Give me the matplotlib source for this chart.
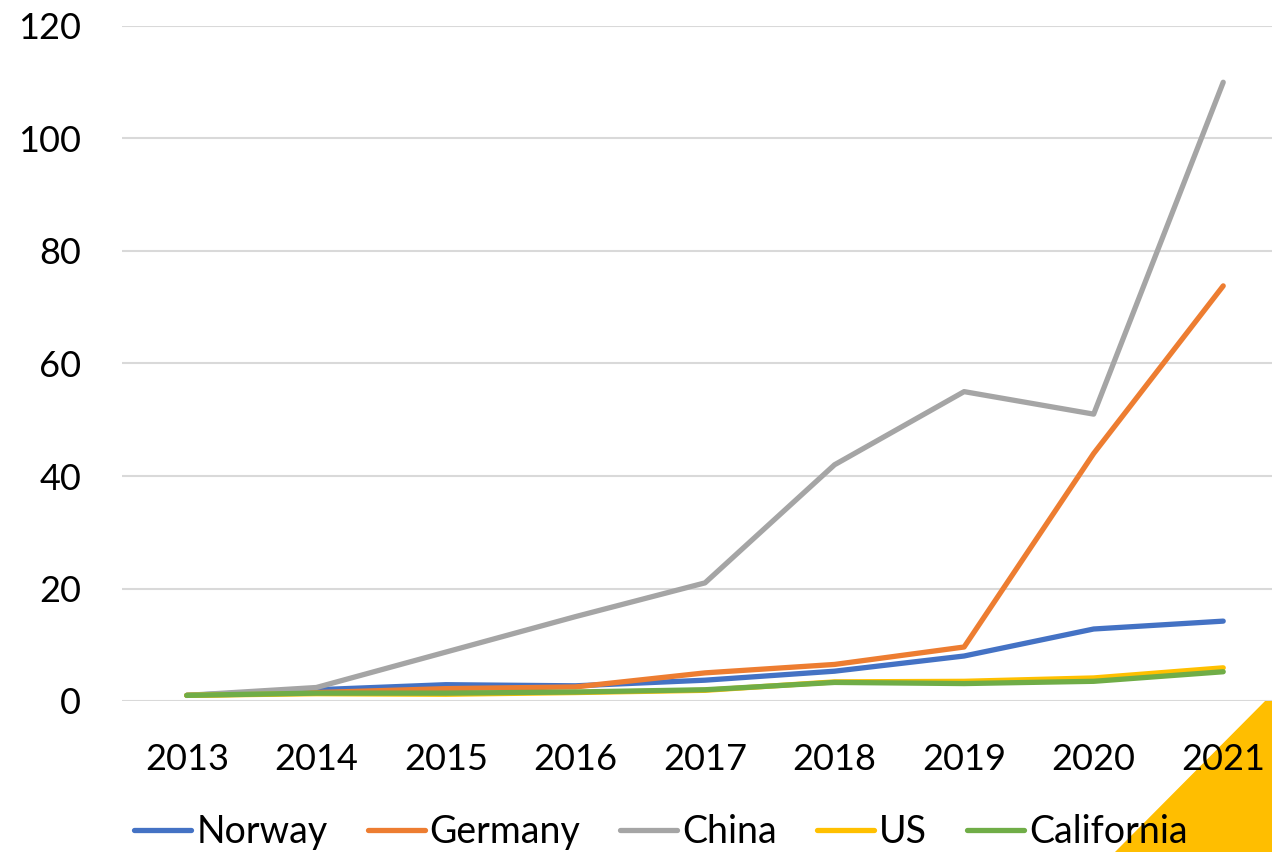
import matplotlib
matplotlib.use("Agg")
import matplotlib.pyplot as plt
from matplotlib.patches import Polygon

years = ["2013", "2014", "2015", "2016", "2017", "2018", "2019", "2020", "2021"]
norway = [1.0, 2.0, 2.9, 2.7, 3.7, 5.3, 8.0, 12.8, 14.2]
germany = [1.0, 1.5, 2.2, 2.5, 5.0, 6.5, 9.6, 44.0, 73.8]
china = [1.0, 2.4, 8.7, 15.0, 21.0, 42.0, 55.0, 51.0, 110.0]
us = [1.0, 1.3, 1.2, 1.5, 1.9, 3.4, 3.5, 4.1, 5.9]
california = [1.0, 1.4, 1.4, 1.6, 2.0, 3.3, 3.1, 3.5, 5.2]

series = [
    ("Norway", norway, "#4472C4"),
    ("Germany", germany, "#ED7D31"),
    ("China", china, "#A5A5A5"),
    ("US", us, "#FFC000"),
    ("California", california, "#70AD47"),
]

plt.rcParams['font.family'] = ['Lato', 'DejaVu Sans']

fig = plt.figure(figsize=(12.72, 8.52), dpi=100)
W, H = 1272, 852
# plot area: categories between ticks, right end runs past the figure edge
ax = fig.add_axes([122 / W, (H - 701) / H, (1288 - 122) / W, (701 - 26) / H])

x = list(range(len(years)))
for name, vals, col in series:
    ax.plot(x, vals, color=col, lw=3.8, label=name, solid_capstyle='round',
            solid_joinstyle='round')

ax.set_xlim(-0.5, len(years) - 0.5)
ax.set_ylim(0, 120)
ax.set_yticks(range(0, 121, 20))
ax.set_xticks(x)
ax.set_xticklabels(years)
ax.grid(axis='y', color='#D9D9D9', lw=1.5)
ax.set_axisbelow(True)
for s in ax.spines.values():
    s.set_visible(False)
ax.tick_params(length=0, labelsize=26, colors='black')
ax.tick_params(axis='y', pad=29.5)
ax.tick_params(axis='x', pad=30)

leg = fig.legend(loc='center', bbox_to_anchor=(661 / W, (H - 832) / H), ncol=5,
                 frameon=False, fontsize=27, handlelength=1.52, handletextpad=0.13,
                 columnspacing=1.07)

# yellow corner triangle
tri = Polygon([[1115 / W, 0], [1 + 0.001, 0], [1 + 0.001, (H - 693) / H]],
              closed=True, transform=fig.transFigure, color='#FFBE00', zorder=-1)
fig.patches.append(tri)

fig.savefig("out.png", dpi=100)
